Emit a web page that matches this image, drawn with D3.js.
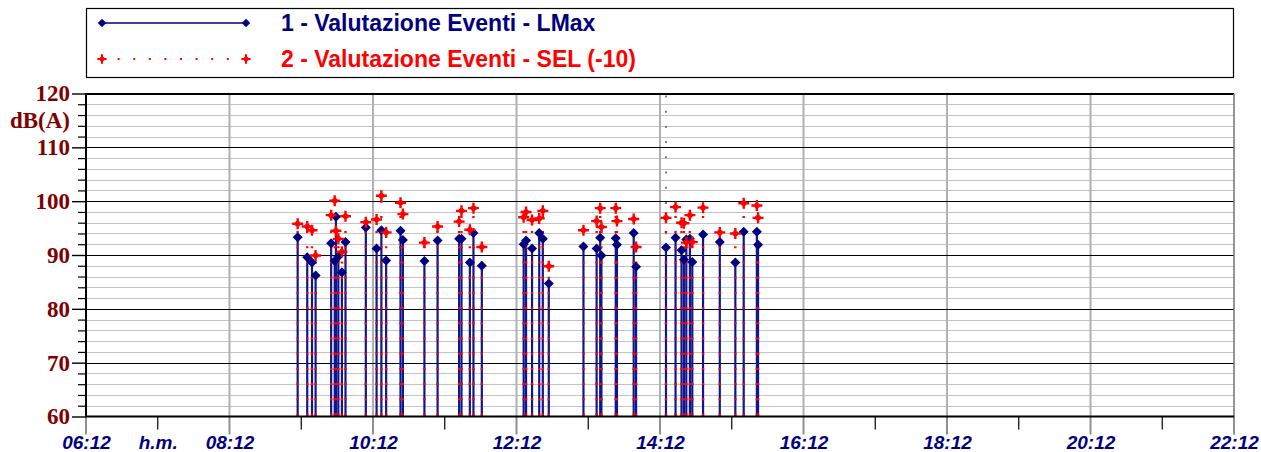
<!DOCTYPE html>
<html><head><meta charset="utf-8">
<script src="https://cdn.jsdelivr.net/npm/d3@7"></script>
<style>body{margin:0;background:#fff} svg{display:block}</style>
</head><body><svg id="c" width="1261" height="452"></svg>
<script>
// ---- data ----
const eventTimes = ["09:09","09:17","09:21","09:24","09:37","09:40","09:41","09:43","09:46","09:49",
  "10:06","10:15","10:19","10:23","10:35","10:37","10:55","11:06","11:24","11:26","11:33","11:36","11:43",
  "12:18","12:20","12:25","12:31","12:34","12:39","13:08","13:19","13:22","13:23","13:35","13:36","13:50","13:52",
  "14:17","14:25","14:30","14:32","14:34","14:37","14:39","14:48","15:02","15:15","15:22","15:33","15:34"];
const lmax = [93.3,89.6,88.6,86.2,92.2,88.9,97.1,89.7,86.8,92.4,
  95.1,91.2,94.6,89.0,94.5,92.8,88.9,92.7,93.0,93.0,88.6,94.1,88.0,
  92.0,92.7,91.2,94.1,93.0,84.7,91.6,91.2,93.2,89.9,93.1,91.9,94.1,87.8,
  91.4,93.2,90.9,89.1,92.9,93.0,88.7,93.8,92.4,88.6,94.3,94.3,91.9];
const sel10 = [95.8,95.3,94.6,89.9,97.4,100.1,94.5,93.0,90.6,97.2,
  96.1,96.6,101.0,94.2,99.7,97.6,92.3,95.3,96.2,98.2,94.7,98.7,91.5,
  97.0,98.0,96.5,96.8,98.2,87.9,94.6,96.3,98.7,95.2,98.7,96.3,96.7,91.5,
  96.9,98.9,96.0,95.9,92.3,97.4,92.4,98.8,94.2,94.0,99.6,99.2,96.9];
const seriesNames = ["1 - Valutazione Eventi - LMax", "2 - Valutazione Eventi - SEL (-10)"];
const xTicks = ["06:12","07:12","08:12","09:12","10:12","11:12","12:12","13:12","14:12",
  "15:12","16:12","17:12","18:12","19:12","20:12","21:12","22:12"];
const xTickLabels = ["06:12","h.m.","08:12","","10:12","","12:12","","14:12",
  "","16:12","","18:12","","20:12","","22:12"];
const yMajorTicks = [60,70,80,90,100,110,120];
const yMinorTicks = [62,64,66,68,72,74,76,78,82,84,86,88,92,94,96,98,102,104,106,108,112,114,116,118];
const yTitle = "dB(A)";
const cursorTime = "14:17";

// ---- layout ----
const svg = d3.select("#c");
const parse = d3.timeParse("%H:%M");
const L = 86, R = 1234, T = 93.5, B = 416.5;
const x = d3.scaleTime().domain([parse("06:12"), parse("22:12")]).range([L, R]);
const y = d3.scaleLinear().domain([60, 120]).range([B, T]);
const navy = "#000080", red = "#ff0000", maroon = "#800000";

const diamond = "M0,-5L5,0L0,5L-5,0Z";
const redStar = "M-5.5,-1.2L5.5,-1.2L5.5,1.2L-5.5,1.2Z M-1.2,-5.5L1.2,-5.5L1.2,5.5L-1.2,5.5Z M0,-4L4,0L0,4L-4,0Z";

// legend
const lg = svg.append("g");
lg.append("rect").attr("x", 86.5).attr("y", 8.5).attr("width", 1147).attr("height", 69)
  .attr("fill", "#fff").attr("stroke", "#000").attr("stroke-width", 1.2);
lg.append("line").attr("x1", 102).attr("x2", 246).attr("y1", 23).attr("y2", 23)
  .attr("stroke", navy).attr("stroke-width", 1.6);
[102, 246].forEach(px => lg.append("path").attr("d", diamond).attr("fill", navy)
  .attr("transform", `translate(${px},23) scale(0.85)`));
lg.append("line").attr("x1", 102).attr("x2", 246).attr("y1", 59).attr("y2", 59)
  .attr("stroke", red).attr("stroke-width", 2).attr("stroke-dasharray", "2,13.6");
[102, 246].forEach(px => lg.append("path").attr("d", redStar).attr("fill", red)
  .attr("transform", `translate(${px},59) scale(0.85)`));
lg.selectAll("text.leg").data(seriesNames).enter().append("text")
  .attr("x", 281).attr("y", (d, i) => i ? 67 : 31)
  .attr("font-family", "Liberation Sans, Arial, sans-serif").attr("font-weight", "bold")
  .attr("font-size", 23).attr("fill", (d, i) => i ? red : navy)
  .text(d => d);

// grid
const grid = svg.append("g");
grid.selectAll("line.hmin").data(yMinorTicks).enter().append("line")
  .attr("x1", L).attr("x2", R).attr("y1", d => Math.round(y(d)) + 0.5).attr("y2", d => Math.round(y(d)) + 0.5)
  .attr("stroke", "#c4c4c4").attr("stroke-width", 1);
grid.selectAll("line.vmaj").data(xTicks.filter((d, i) => i % 2 === 0 && i > 0 && i < 16)).enter().append("line")
  .attr("x1", d => x(parse(d))).attr("x2", d => x(parse(d))).attr("y1", T).attr("y2", B)
  .attr("stroke", "#b0b0b0").attr("stroke-width", 2);
grid.selectAll("line.hmaj").data(yMajorTicks.filter(d => d > 60)).enter().append("line")
  .attr("x1", L).attr("x2", R).attr("y1", d => Math.round(y(d)) + 0.5).attr("y2", d => Math.round(y(d)) + 0.5)
  .attr("stroke", "#000").attr("stroke-width", 1.2);
grid.append("line").attr("x1", R).attr("x2", R).attr("y1", T).attr("y2", B + 18)
  .attr("stroke", "#707070").attr("stroke-width", 1.5);

// x ticks below axis
const xt = svg.append("g");
xt.selectAll("line").data(xTicks).enter().append("line")
  .attr("x1", d => x(parse(d))).attr("x2", d => x(parse(d)))
  .attr("y1", B).attr("y2", (d, i) => i % 2 === 0 ? B + 18 : B + 13)
  .attr("stroke", (d, i) => i % 2 === 0 ? "#909090" : "#000")
  .attr("stroke-width", (d, i) => i % 2 === 0 ? 2 : 1.2);

// x labels via axis
const xAxis = d3.axisBottom(x).tickValues(xTicks.map(parse)).tickSize(0).tickPadding(19)
  .tickFormat((d, i) => xTickLabels[i]);
const gx = svg.append("g").attr("transform", `translate(0,${B})`).call(xAxis);
gx.select(".domain").remove();
gx.selectAll("text").attr("font-family", "Liberation Sans, Arial, sans-serif")
  .attr("font-weight", "bold").attr("font-style", "italic").attr("font-size", 19).attr("fill", navy);

// y axis ticks + labels
const gyMin = svg.append("g").attr("transform", `translate(${L},0)`)
  .call(d3.axisLeft(y).tickValues(yMinorTicks).tickSize(8).tickFormat(""));
gyMin.select(".domain").remove();
gyMin.selectAll("line").attr("stroke", "#000").attr("stroke-width", 1.2);
const gy = svg.append("g").attr("transform", `translate(${L},0)`)
  .call(d3.axisLeft(y).tickValues(yMajorTicks).tickSize(14).tickPadding(2).tickFormat(d3.format("d")));
gy.select(".domain").remove();
gy.selectAll("line").attr("stroke", "#000").attr("stroke-width", 1.4);
gy.selectAll("text").attr("font-family", "Liberation Serif, Times New Roman, serif")
  .attr("font-weight", "bold").attr("font-size", 23).attr("fill", maroon);
svg.append("text").attr("x", 70).attr("y", y(115) + 8).attr("text-anchor", "end")
  .attr("font-family", "Liberation Serif, Times New Roman, serif").attr("font-weight", "bold")
  .attr("font-size", 23).attr("fill", maroon).text(yTitle);

// cursor dotted line
svg.append("line").attr("x1", x(parse(cursorTime))).attr("x2", x(parse(cursorTime)))
  .attr("y1", T + 2).attr("y2", B).attr("stroke", "#8a6c92").attr("stroke-width", 2)
  .attr("stroke-dasharray", "2,13.2");

// data
const ev = eventTimes.map((t, i) => ({ t: parse(t), l: lmax[i], s: sel10[i] }));
const g = svg.append("g");
g.selectAll("line.stem").data(ev).enter().append("line")
  .attr("x1", d => x(d.t)).attr("x2", d => x(d.t)).attr("y1", B).attr("y2", d => y(d.l))
  .attr("stroke", "#14148c").attr("stroke-width", 2.2);
g.selectAll("line.sstem").data(ev).enter().append("line")
  .attr("x1", d => x(d.t)).attr("x2", d => x(d.t)).attr("y1", B - 1).attr("y2", d => y(d.s))
  .attr("stroke", red).attr("stroke-width", 2.4).attr("stroke-dasharray", "2,13.2");

// axes lines
svg.append("line").attr("x1", L).attr("x2", R).attr("y1", B).attr("y2", B).attr("stroke", "#000").attr("stroke-width", 2.2);
svg.append("line").attr("x1", L).attr("x2", R).attr("y1", T).attr("y2", T).attr("stroke", "#000").attr("stroke-width", 1.2);
svg.append("line").attr("x1", L).attr("x2", L).attr("y1", T).attr("y2", B).attr("stroke", "#000").attr("stroke-width", 2);

g.selectAll("path.dia").data(ev).enter().append("path")
  .attr("d", diamond).attr("fill", navy)
  .attr("transform", d => `translate(${x(d.t)},${y(d.l)})`);
g.selectAll("path.star").data(ev).enter().append("path")
  .attr("d", redStar).attr("fill", red)
  .attr("transform", d => `translate(${x(d.t)},${y(d.s)})`);
</script></body></html>
